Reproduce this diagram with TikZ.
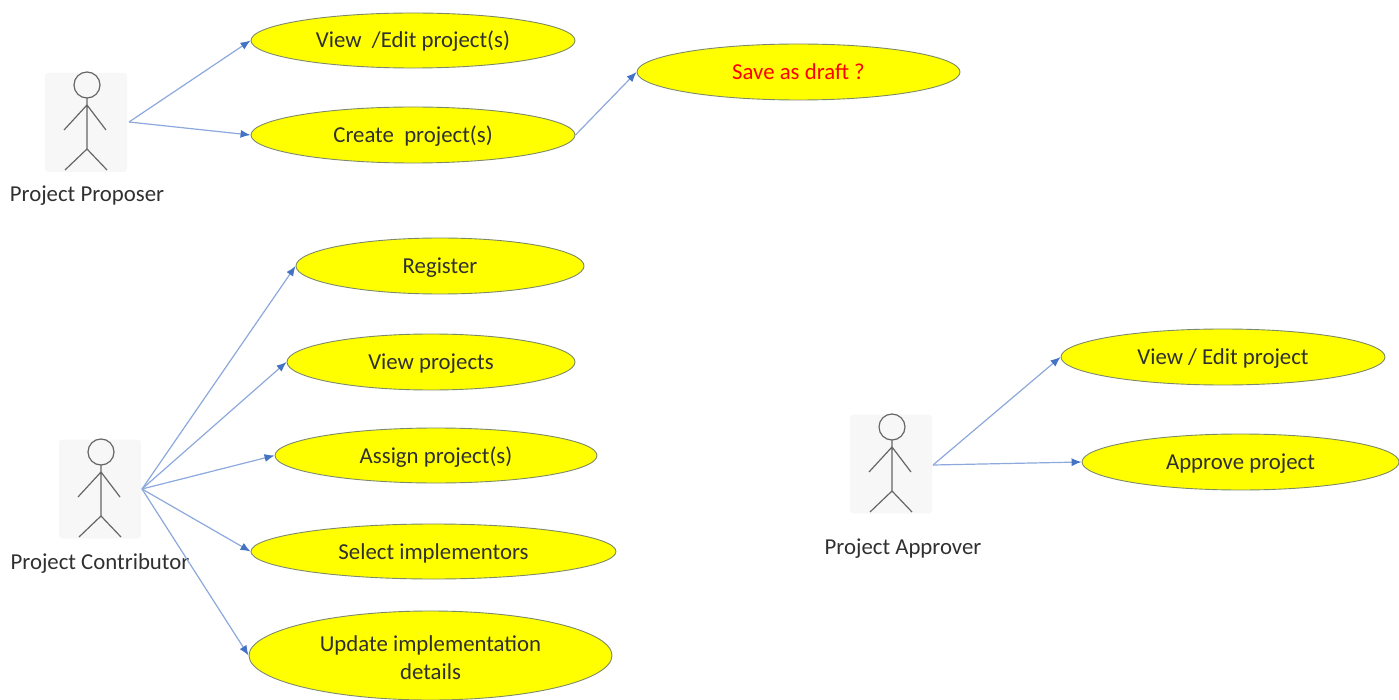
\documentclass[tikz,border=0pt]{standalone}
\usepackage{fontspec}
\setmainfont{Carlito}
\usetikzlibrary{shapes.geometric,arrows.meta}
\definecolor{linkblue}{HTML}{8CA8DC}
\definecolor{tipblue}{HTML}{4472C4}
\definecolor{caseedge}{HTML}{7C8A6A}
\definecolor{casefill}{HTML}{FFFF00}
\definecolor{boxgrey}{HTML}{F7F7F7}
\definecolor{inkgrey}{HTML}{303030}
\tikzset{
  usecase/.style   = {shape=ellipse, draw=caseedge, fill=casefill, line width=0.9pt,
                      inner sep=0pt, align=center, text=inkgrey,
                      text height=17pt, text depth=2pt,
                      font=\fontsize{22.8}{27.5}\selectfont},
  actorbox/.style  = {shape=rectangle, rounded corners=3pt, fill=boxgrey,
                      minimum width=82pt, minimum height=99pt, inner sep=0pt},
  actorname/.style = {text=inkgrey, inner sep=0pt, font=\fontsize{22.8}{26}\selectfont},
  link/.style      = {draw=linkblue, line width=1.2pt,
                      -{Latex[color=tipblue,length=10pt,width=8pt]}},
  stickman/.pic    = {
    \draw [draw=black!60, line width=1.2pt]
      (0,-37) circle (13)
      (0,-24) -- (0,27)
      (-23,8) -- (0,-17) -- (19,8)
      (-22,48) -- (0,27) -- (20,48);
  }
}

\begin{document}
\begin{tikzpicture}[x=1pt, y=-1pt]
  \useasboundingbox (0,0) rectangle (1399,700);

  % proposer
  \node [actorbox] (proposer) at (86,122.5) {};
  \pic at (87,122) {stickman};
  \node [actorname] (proposername) at (87,195.5) {Project Proposer};
  \coordinate (proposerport) at (129,122);
  \node [usecase, minimum width=324pt, minimum height=55pt] (viewedit) at (413,40.5) {View \ /Edit project(s)};
  \node [usecase, minimum width=324pt, minimum height=56pt] (create) at (413,135) {Create \ project(s)};
  \node [usecase, minimum width=323pt, minimum height=56pt, text=red] (draft) at (798.5,72) {Save as draft ?};
  \draw [link] (proposerport) -- (viewedit.west);
  \draw [link] (proposerport) -- (create.west);
  \draw [link] (create.east) -- (draft.west);

  % contributor
  \node [actorbox] (contributor) at (100,489) {};
  \pic at (101,489) {stickman};
  \node [actorname] (contributorname) at (100,563.5) {Project Contributor};
  \coordinate (contributorport) at (142,489);
  \node [usecase, minimum width=288pt, minimum height=56pt] (register) at (440,266) {Register};
  \node [usecase, minimum width=288pt, minimum height=56pt] (viewall) at (431,362) {View projects};
  \node [usecase, minimum width=322pt, minimum height=55pt] (assign) at (436,455.5) {Assign project(s)};
  \node [usecase, minimum width=365pt, minimum height=55pt] (select) at (433.5,551.5) {Select implementors};
  \node [usecase, minimum width=363pt, minimum height=89pt, text height=47pt, text depth=0pt] (update) at (430.5,655.5) {Update implementation\\details};
  \foreach \target in {register,viewall,assign,select,update}
    \draw [link] (contributorport) -- (\target.west);

  % approver
  \node [actorbox] (approver) at (891,464) {};
  \pic at (892,464) {stickman};
  \node [actorname] (approvername) at (903,548.5) {Project Approver};
  \coordinate (approverport) at (933,465);
  \node [usecase, minimum width=324pt, minimum height=56pt] (editone) at (1223,357) {View / Edit project};
  \node [usecase, minimum width=317pt, minimum height=56pt] (approve) at (1240.5,462) {Approve project};
  \draw [link] (approverport) -- (editone.west);
  \draw [link] (approverport) -- (approve.west);
\end{tikzpicture}
\end{document}
